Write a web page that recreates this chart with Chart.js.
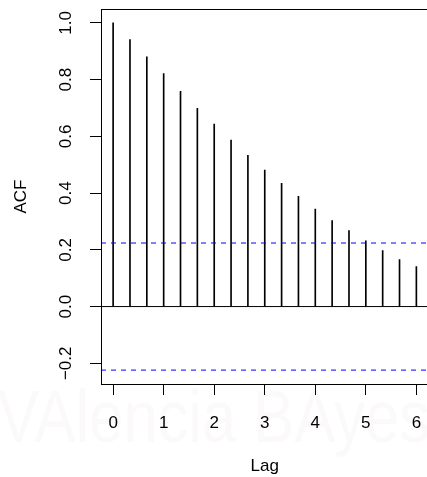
<!DOCTYPE html>
<html>
<head>
<meta charset="utf-8">
<script src="https://cdn.jsdelivr.net/npm/chart.js@4/dist/chart.umd.min.js"></script>
<style>
  html, body { margin: 0; padding: 0; background: #ffffff; overflow: hidden; }
  canvas { display: block; }
</style>
</head>
<body>
<canvas id="acf" width="440" height="477"></canvas>
<script>
// Sample autocorrelation by lag (lags in units of seasonal period, 3 obs per unit)
const lags = [0, 1/3, 2/3, 1, 4/3, 5/3, 2, 7/3, 8/3, 3, 10/3, 11/3, 4, 13/3, 14/3, 5, 16/3, 17/3, 6];
const acfValues = [1.000, 0.941, 0.880, 0.821, 0.759, 0.699, 0.643, 0.587, 0.533,
                   0.481, 0.434, 0.389, 0.344, 0.303, 0.268, 0.232, 0.197, 0.166, 0.141];
// Approximate 95% significance bound
const confBound = 0.224;
const xTicks = [0, 1, 2, 3, 4, 5, 6];
const yTicks = [-0.2, 0.0, 0.2, 0.4, 0.6, 0.8, 1.0];
const xRange = [-0.24, 6.24];
const yRange = [-0.273, 1.049];

const FONT = "'Liberation Sans', Arial, Helvetica, sans-serif";

// Background watermark text
const watermark = {
  id: 'watermark',
  beforeDraw(chart) {
    const ctx = chart.ctx;
    ctx.save();
    ctx.fillStyle = '#fcf9fa';
    ctx.font = '74px ' + FONT;
    ctx.textBaseline = 'alphabetic';
    ctx.textAlign = 'left';
    ctx.fillText('VAlencia BAyes', -2, 442, 432);
    ctx.restore();
  }
};

// Box around the plotting region
const plotBox = {
  id: 'plotBox',
  afterDraw(chart) {
    const {ctx, chartArea: a} = chart;
    ctx.save();
    ctx.strokeStyle = '#000000';
    ctx.lineWidth = 1;
    ctx.strokeRect(Math.round(a.left) + 0.5, Math.round(a.top) + 0.5,
                   Math.round(a.right - a.left), Math.round(a.bottom - a.top));
    ctx.restore();
  }
};

const fmtY = v => v.toFixed(1).replace('-', '\u2212');

new Chart(document.getElementById('acf'), {
  type: 'bar',
  data: {
    datasets: [
      {
        type: 'bar',
        data: lags.map((l, i) => ({x: l, y: acfValues[i]})),
        backgroundColor: '#000000',
        borderWidth: 0,
        barThickness: 1,
        order: 2
      },
      {
        type: 'line',
        data: [{x: xRange[0], y: 0}, {x: xRange[1], y: 0}],
        borderColor: '#000000',
        borderWidth: 1,
        pointRadius: 0,
        order: 1
      },
      {
        type: 'line',
        data: [{x: xRange[0], y: confBound}, {x: xRange[1], y: confBound}],
        borderColor: '#0000ff',
        borderWidth: 1,
        borderDash: [5, 5],
        pointRadius: 0,
        order: 0
      },
      {
        type: 'line',
        data: [{x: xRange[0], y: -confBound}, {x: xRange[1], y: -confBound}],
        borderColor: '#0000ff',
        borderWidth: 1,
        borderDash: [5, 5],
        pointRadius: 0,
        order: 0
      }
    ]
  },
  options: {
    responsive: false,
    animation: false,
    devicePixelRatio: 1,
    layout: { padding: { left: 0, top: 9, right: 11.5, bottom: 0 } },
    plugins: { legend: { display: false }, tooltip: { enabled: false } },
    scales: {
      x: {
        type: 'linear',
        offset: false,
        min: xRange[0],
        max: xRange[1],
        afterBuildTicks: s => { s.ticks = xTicks.map(v => ({value: v})); },
        afterFit: s => { s.height = 93; s.paddingLeft = 0; s.paddingRight = 0; },
        grid: { offset: false, drawOnChartArea: false, drawTicks: true, tickLength: 11, color: '#000000', lineWidth: 1 },
        border: { display: false },
        ticks: {
          color: '#000000',
          padding: 18,
          maxRotation: 0,
          autoSkip: false,
          font: { family: FONT, size: 17 },
          callback: v => String(v)
        },
        title: {
          display: true,
          text: 'Lag',
          color: '#000000',
          font: { family: FONT, size: 17 },
          padding: { top: 0, bottom: 0 }
        }
      },
      y: {
        type: 'linear',
        min: yRange[0],
        max: yRange[1],
        afterBuildTicks: s => { s.ticks = yTicks.map(v => ({value: v})); },
        afterFit: s => { s.width = 101; s.paddingTop = 0; s.paddingBottom = 0; },
        grid: { drawOnChartArea: false, drawTicks: true, tickLength: 11, color: '#000000', lineWidth: 1 },
        border: { display: false },
        ticks: {
          color: '#000000',
          padding: 7,
          minRotation: 90,
          maxRotation: 90,
          crossAlign: 'center',
          autoSkip: false,
          font: { family: FONT, size: 17 },
          callback: v => fmtY(v)
        },
        title: {
          display: true,
          text: 'ACF',
          color: '#000000',
          font: { family: FONT, size: 17 },
          padding: { top: 11, bottom: 0 }
        }
      }
    }
  },
  plugins: [watermark, plotBox]
});
</script>
</body>
</html>
